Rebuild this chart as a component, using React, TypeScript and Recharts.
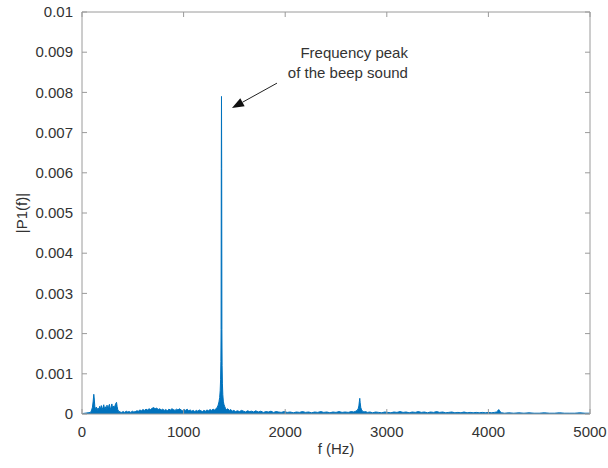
import { Area, AreaChart, ReferenceLine, XAxis, YAxis } from 'recharts'

// single-sided amplitude spectrum (Hz / |P1(f)|)
const freqHz = [
  0, 30, 60, 85, 95, 103, 110, 116, 120, 126,
  134, 142, 150, 158, 166, 174, 182, 190, 198, 206,
  214, 222, 230, 238, 246, 254, 262, 270, 278, 286,
  294, 302, 310, 318, 326, 334, 340, 346, 352, 360,
  375, 390, 405, 420, 435, 450, 465, 480, 495, 510,
  525, 540, 555, 570, 585, 600, 615, 630, 645, 660,
  675, 690, 705, 720, 735, 750, 765, 780, 795, 810,
  825, 840, 855, 870, 885, 900, 915, 930, 945, 960,
  975, 990, 1005, 1020, 1035, 1050, 1065, 1080, 1095, 1110,
  1125, 1140, 1155, 1170, 1185, 1200, 1215, 1230, 1245, 1260,
  1275, 1290, 1305, 1318, 1330, 1340, 1348, 1355, 1360, 1364,
  1367, 1369, 1371, 1373, 1375, 1377, 1379, 1382, 1386, 1391,
  1397, 1404, 1412, 1422, 1435, 1450, 1465, 1480, 1495, 1510,
  1530, 1550, 1570, 1590, 1610, 1630, 1650, 1670, 1690, 1710,
  1735, 1760, 1785, 1810, 1835, 1860, 1885, 1910, 1935, 1960,
  1990, 2020, 2050, 2080, 2110, 2140, 2170, 2200, 2230, 2260,
  2290, 2320, 2350, 2380, 2410, 2440, 2470, 2500, 2530, 2560,
  2590, 2620, 2650, 2675, 2695, 2708, 2718, 2725, 2730, 2734,
  2738, 2744, 2752, 2762, 2775, 2790, 2810, 2835, 2860, 2890,
  2920, 2950, 2980, 3010, 3040, 3070, 3100, 3130, 3160, 3190,
  3220, 3250, 3280, 3310, 3340, 3370, 3400, 3430, 3460, 3490,
  3520, 3550, 3580, 3610, 3640, 3670, 3700, 3730, 3760, 3790,
  3820, 3850, 3880, 3910, 3940, 3970, 4000, 4030, 4060, 4080,
  4090, 4098, 4104, 4110, 4118, 4130, 4160, 4200, 4250, 4300,
  4350, 4400, 4450, 4500, 4550, 4600, 4650, 4700, 4750, 4800,
  4850, 4900, 4950, 5000,
]

const magnitude = [
  0.00001, 0.00002, 0.00003, 0.00004, 0.0001, 0.00017, 0.00032, 0.00049, 0.0004, 0.00019,
  0.00011, 0.00017, 0.00008, 0.00015, 0.0001, 0.00019, 0.00012, 0.00021, 0.00011, 0.00016,
  0.00023, 0.00012, 0.00018, 0.0001, 0.00022, 0.00013, 0.00019, 0.00024, 0.00011, 0.00017,
  0.00025, 0.00013, 0.0002, 0.00015, 0.00022, 0.00027, 0.00029, 0.00018, 0.00011, 0.00007,
  0.00005, 0.00004, 0.00006, 0.00004, 0.00007, 0.00005, 0.00006, 0.00004, 0.00007, 0.00005,
  0.00006, 0.00008, 0.00007, 0.0001, 0.00008, 0.00011, 0.00009, 0.00012, 0.0001, 0.00013,
  0.00011, 0.00014, 0.00016, 0.00013, 0.00015, 0.00011, 0.00013, 0.0001, 0.00012, 0.00009,
  0.00011, 0.00008, 0.00012, 0.0001, 0.00013, 0.00011, 0.00009, 0.00012, 0.0001, 0.00013,
  0.0001, 0.00008, 0.00011, 0.00009, 0.00012, 0.00008, 0.0001, 0.00007, 0.00009, 0.00006,
  0.00009, 0.00007, 0.0001, 0.00008, 0.00006, 0.00009, 0.00007, 0.0001, 0.00008, 0.00011,
  0.00009, 0.00012, 0.0001, 0.00013, 0.00016, 0.00022, 0.0003, 0.00041, 0.00058, 0.00085,
  0.0013, 0.0021, 0.0061, 0.0079, 0.0061, 0.0021, 0.0012, 0.00075, 0.00048, 0.00032,
  0.00024, 0.00019, 0.00014, 0.00011, 0.00013, 0.00009, 0.00011, 0.00007, 0.00009, 0.00006,
  0.00008, 0.00006, 0.00009, 0.00007, 0.00005, 0.00008, 0.00006, 0.00007, 0.00005, 0.00008,
  0.00005, 0.00007, 0.00004, 0.00006, 0.00005, 0.00007, 0.00004, 0.00006, 0.00005, 0.00004,
  0.00006, 0.00004, 0.00005, 0.00003, 0.00005, 0.00004, 0.00006, 0.00004, 0.00005, 0.00003,
  0.00005, 0.00004, 0.00006, 0.00004, 0.00005, 0.00003, 0.00005, 0.00004, 0.00006, 0.00004,
  0.00005, 0.00004, 0.00006, 0.00005, 0.00007, 0.00009, 0.00013, 0.0002, 0.00031, 0.00039,
  0.00028, 0.00016, 0.0001, 0.00007, 0.00005, 0.00006, 0.00004, 0.00005, 0.00003, 0.00005,
  0.00004, 0.00003, 0.00005, 0.00004, 0.00003, 0.00005, 0.00004, 0.00006, 0.00004, 0.00005,
  0.00003, 0.00005, 0.00004, 0.00006, 0.00004, 0.00005, 0.00003, 0.00005, 0.00004, 0.00006,
  0.00004, 0.00005, 0.00003, 0.00004, 0.00005, 0.00003, 0.00004, 0.00003, 0.00005, 0.00003,
  0.00004, 0.00003, 0.00004, 0.00003, 0.00004, 0.00003, 0.00004, 0.00003, 0.00004, 0.00005,
  0.00007, 0.0001, 0.00011, 0.00008, 0.00005, 0.00003, 0.00002, 0.00003, 0.00002, 0.00003,
  0.00002, 0.00003, 0.00002, 0.00002, 0.00003, 0.00002, 0.00002, 0.00003, 0.00002, 0.00002,
  0.00002, 0.00003, 0.00002, 0.00002,
]

const freqTicks = [0, 1000, 2000, 3000, 4000, 5000]
const magTicks = [0, 0.001, 0.002, 0.003, 0.004, 0.005, 0.006, 0.007, 0.008, 0.009, 0.01]

const peakNote = ['Frequency peak', 'of the beep sound']
const arrowFrom = { f: 1919, mag: 0.00823 }
const arrowTo = { f: 1476, mag: 0.00761 }

const spectrum = freqHz.map((f, i) => ({ f, mag: magnitude[i] }))

const font = '"Liberation Sans", Arial, Helvetica, sans-serif'
const axisColor = '#9a9a9a'
const textColor = '#333333'
const lineColor = '#0072BD'

function BottomTick(props: any) {
  const { x, y, payload } = props
  return (
    <g>
      <line x1={x} y1={y} x2={x} y2={y - 5} stroke={axisColor} />
      <text x={x} y={y + 12} dy="0.71em" textAnchor="middle" fill={textColor} fontSize={15} fontFamily={font}>
        {String(payload.value)}
      </text>
    </g>
  )
}

function LeftTick(props: any) {
  const { x, y, payload } = props
  return (
    <g>
      <line x1={x} y1={y} x2={x + 5} y2={y} stroke={axisColor} />
      <text x={x - 9} y={y} dy="0.35em" textAnchor="end" fill={textColor} fontSize={15} fontFamily={font}>
        {String(payload.value)}
      </text>
    </g>
  )
}

function TopTick(props: any) {
  const { x, y } = props
  return <line x1={x} y1={y} x2={x} y2={y + 5} stroke={axisColor} />
}

function RightTick(props: any) {
  const { x, y } = props
  return <line x1={x} y1={y} x2={x - 5} y2={y} stroke={axisColor} />
}

function YTitle(props: any) {
  const { viewBox } = props
  const cx = viewBox.x + 22
  const cy = viewBox.y + viewBox.height / 2
  return (
    <text
      x={cx}
      y={cy}
      dy="0.35em"
      textAnchor="middle"
      transform={`rotate(-90 ${cx} ${cy})`}
      fill={textColor}
      fontSize={15}
      fontFamily={font}
    >
      |P1(f)|
    </text>
  )
}

function PeakArrow(props: any) {
  const { x1, y1, x2, y2 } = props
  const ang = Math.atan2(y2 - y1, x2 - x1)
  const len = 12
  const half = 4.5
  const bx = x2 - len * Math.cos(ang)
  const by = y2 - len * Math.sin(ang)
  const pts = [
    `${x2},${y2}`,
    `${bx - half * Math.sin(ang)},${by + half * Math.cos(ang)}`,
    `${bx + half * Math.sin(ang)},${by - half * Math.cos(ang)}`,
  ].join(' ')
  return (
    <g>
      <line x1={x1} y1={y1} x2={bx} y2={by} stroke="#222" strokeWidth={1} />
      <polygon points={pts} fill="#111" />
      {peakNote.map((t, i) => (
        <text key={t} x={x1 + 131} y={y1 - 25 + i * 20} textAnchor="end" fill={textColor} fontSize={15} fontFamily={font}>
          {t}
        </text>
      ))}
    </g>
  )
}

export default function App() {
  return (
    <div style={{ position: 'absolute', left: 0, top: 0, width: 608, height: 468, background: '#fff' }}>
      <AreaChart width={608} height={468} data={spectrum} margin={{ top: 11, right: 17, bottom: 0, left: 0 }}>
        <XAxis
          dataKey="f"
          type="number"
          domain={[0, 5000]}
          ticks={freqTicks}
          interval={0}
          allowDataOverflow
          height={54}
          stroke={axisColor}
          tickSize={0}
          tickMargin={0}
          tickLine={false}
          tick={<BottomTick />}
          label={{ value: 'f (Hz)', position: 'insideBottom', offset: 14, fill: textColor, fontSize: 15, fontFamily: font }}
        />
        <XAxis
          xAxisId="top"
          dataKey="f"
          orientation="top"
          type="number"
          domain={[0, 5000]}
          ticks={freqTicks}
          interval={0}
          allowDataOverflow
          height={1}
          stroke={axisColor}
          tickSize={0}
          tickMargin={0}
          tickLine={false}
          tick={<TopTick />}
        />
        <YAxis
          type="number"
          domain={[0, 0.01]}
          ticks={magTicks}
          interval={0}
          allowDataOverflow
          width={82}
          stroke={axisColor}
          tickSize={0}
          tickMargin={0}
          tickLine={false}
          tick={<LeftTick />}
          label={<YTitle />}
        />
        <YAxis
          yAxisId="right"
          orientation="right"
          type="number"
          domain={[0, 0.01]}
          ticks={magTicks}
          interval={0}
          allowDataOverflow
          width={1}
          stroke={axisColor}
          tickSize={0}
          tickMargin={0}
          tickLine={false}
          tick={<RightTick />}
        />
        {/* invisible copy so the mirrored box axes get drawn */}
        <Area
          xAxisId="top"
          yAxisId="right"
          type="linear"
          dataKey="mag"
          stroke="none"
          fill="none"
          dot={false}
          activeDot={false}
          isAnimationActive={false}
        />
        <Area
          type="linear"
          dataKey="mag"
          stroke={lineColor}
          strokeWidth={1}
          fill={lineColor}
          fillOpacity={1}
          dot={false}
          activeDot={false}
          isAnimationActive={false}
        />
        <ReferenceLine
          segment={[
            { x: arrowFrom.f, y: arrowFrom.mag },
            { x: arrowTo.f, y: arrowTo.mag },
          ]}
          shape={(p: any) => <PeakArrow {...p} />}
        />
      </AreaChart>
    </div>
  )
}
